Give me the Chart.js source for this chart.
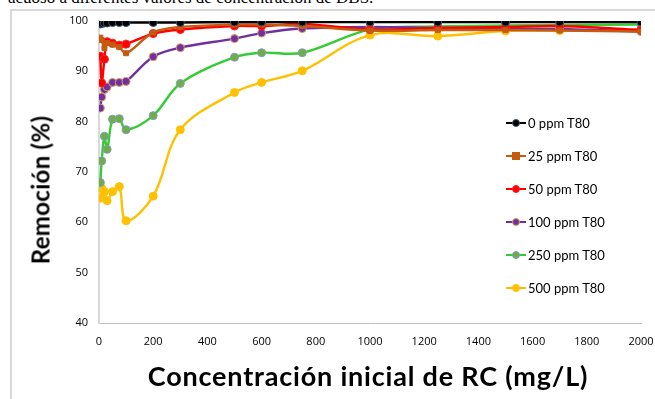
<!DOCTYPE html>
<html>
<head>
<meta charset="utf-8">
<script src="https://cdn.jsdelivr.net/npm/chart.js@4"></script>
<style>
  body { margin: 0; background: #fff; }
  #wrap { position: relative; width: 655px; height: 399px; overflow: hidden; }
  #frame { position: absolute; left: 10px; top: 9px; width: 700px; height: 420px;
           border-left: 2px solid #d9d9d9; border-top: 2px solid #d9d9d9; }
  #caption { position: absolute; left: 8px; top: -12px; font: 17px "Liberation Serif", serif; color: #000; white-space: nowrap; }
  canvas { position: absolute; left: 0; top: 0; }
  #ytitle { position: absolute; left: 40px; top: 190px; transform: translate(-50%, -50%) rotate(-90deg);
            font: bold 24px Lato, sans-serif; letter-spacing: 0.3px; white-space: nowrap; color: #000; }
  #xtitle { position: absolute; left: 368px; top: 375px; transform: translate(-50%, -50%);
            font: bold 27px Lato, sans-serif; letter-spacing: 0.8px; white-space: nowrap; color: #000; }
  #legend { position: absolute; left: 506px; top: 114px; font: 13px Lato, sans-serif; color: #000; }
  .item { height: 33px; display: flex; align-items: flex-start; line-height: 18px; }
  .key { position: relative; width: 20px; height: 18px; margin-right: 2px; }
  .key .ln { position: absolute; left: 0; right: 0; top: 8px; height: 2px; }
  .key .mk { position: absolute; left: 6px; top: 5px; width: 8px; height: 8px; border-radius: 50%; box-sizing: border-box; }
</style>
</head>
<body>
<div id="wrap">
  <div id="frame"></div>
  <div id="caption">acuoso a diferentes valores de concentración de DBS.</div>
  <canvas id="chart" width="655" height="399"></canvas>
  <div id="ytitle">Remoción (%)</div>
  <div id="xtitle">Concentración inicial de RC (mg/L)</div>
  <div id="legend"></div>
</div>
<script>
// concentración inicial de RC (mg/L)
const concentracion = [5, 10, 20, 30, 50, 75, 100, 200, 300, 500, 600, 750, 1000, 1250, 1500, 1700, 2000];

// remoción (%) para cada concentración de T80
const remocion0   = [99.4, 99.5, 99.6, 99.6, 99.7, 99.7, 99.7, 99.7, 99.7, 99.8, 99.8, 99.8, 99.8, 99.8, 99.8, 99.8, 99.8];
const remocion25  = [96.7, 96.2, 94.6, 95.6, 95.3, 94.8, 93.6, 97.7, 98.8, 99.3, 99.3, 99.0, 98.1, 98.2, 98.2, 98.1, 97.9];
const remocion50  = [93.0, 87.7, 92.4, 95.9, 95.6, 95.2, 95.4, 97.5, 98.3, 99.0, 99.0, 99.4, 98.3, 98.6, 98.8, 99.0, 98.2];
const remocion100 = [82.7, 84.9, 86.4, 86.9, 87.8, 87.8, 88.0, 92.9, 94.7, 96.5, 97.6, 98.5, 98.8, 98.6, 98.5, 98.4, 97.9];
const remocion250 = [67.9, 72.2, 77.1, 74.5, 80.5, 80.6, 78.4, 81.2, 87.6, 92.8, 93.7, 93.7, 98.3, 98.9, 99.1, 99.2, 99.3];
const remocion500 = [64.8, 66.8, 66.1, 64.3, 66.1, 67.1, 60.3, 65.2, 78.4, 85.8, 87.8, 90.1, 97.2, 97.0, 98.0, 98.1, 98.3];

const seriesNames = ['0 ppm T80', '25 ppm T80', '50 ppm T80', '100 ppm T80', '250 ppm T80', '500 ppm T80'];
const seriesValues = [remocion0, remocion25, remocion50, remocion100, remocion250, remocion500];

const xTicks = [0, 200, 400, 600, 800, 1000, 1200, 1400, 1600, 1800, 2000];
const yTicks = [40, 50, 60, 70, 80, 90, 100];

// estilos de cada serie (línea, relleno y borde del marcador)
const styles = [
  { line: '#000000', fill: '#000000', border: '#3b5670', shape: 'circle' },
  { line: '#c55a11', fill: '#c55a11', border: '#c55a11', shape: 'rect' },
  { line: '#ff0000', fill: '#ff0000', border: '#ff2020', shape: 'circle' },
  { line: '#7030a0', fill: '#7030a0', border: '#d9a060', shape: 'circle' },
  { line: '#33cc33', fill: '#70ad47', border: '#7f9cc0', shape: 'circle' },
  { line: '#ffc000', fill: '#ffc000', border: '#ffc000', shape: 'circle' }
];

const datasets = seriesNames.map((name, i) => ({
  label: name,
  data: concentracion.map((x, j) => ({ x: x, y: seriesValues[i][j] })),
  borderColor: styles[i].line,
  backgroundColor: styles[i].fill,
  pointBorderColor: styles[i].border,
  pointBackgroundColor: styles[i].fill,
  pointStyle: styles[i].shape,
  pointRadius: styles[i].shape === 'rect' ? 3.5 : 4,
  pointBorderWidth: 1,
  borderWidth: 2.4,
  tension: 0.35,
  fill: false
}));

// fija el área del gráfico igual que en la imagen
const fixLeft = 99, fixBottom = 323;

new Chart(document.getElementById('chart'), {
  type: 'line',
  data: { datasets: datasets },
  options: {
    responsive: false,
    animation: false,
    layout: { padding: { top: 21, right: 14, left: 0, bottom: 0 } },
    plugins: { legend: { display: false }, tooltip: { enabled: false } },
    scales: {
      x: {
        type: 'linear', min: 0, max: 2000,
        afterBuildTicks: s => { s.ticks = xTicks.map(v => ({ value: v })); },
        afterFit: s => { s.height = 399 - fixBottom; s.paddingLeft = 0; s.paddingRight = 0; },
        grid: { display: false, drawTicks: false },
        border: { color: '#bfbfbf', width: 1 },
        ticks: { color: '#000', font: { family: 'Open Sans', size: 11 }, padding: 12, maxRotation: 0,
                 callback: v => String(v) }
      },
      y: {
        min: 40, max: 100,
        afterBuildTicks: s => { s.ticks = yTicks.map(v => ({ value: v })); },
        afterFit: s => { s.width = fixLeft; },
        grid: { display: false, drawTicks: false },
        border: { color: '#d9d9d9', width: 2 },
        ticks: { color: '#000', font: { family: 'Open Sans', size: 11 }, padding: 11 }
      }
    }
  }
});

// leyenda dentro del área del gráfico
const legend = document.getElementById('legend');
seriesNames.forEach((name, i) => {
  const st = styles[i];
  const radius = st.shape === 'rect' ? '0' : '50%';
  legend.innerHTML += `
    <div class="item">
      <div class="key">
        <div class="ln" style="background:${st.line}"></div>
        <div class="mk" style="background:${st.fill};border:1px solid ${st.border};border-radius:${radius}"></div>
      </div>
      <span>${name}</span>
    </div>`;
});
</script>
</body>
</html>
